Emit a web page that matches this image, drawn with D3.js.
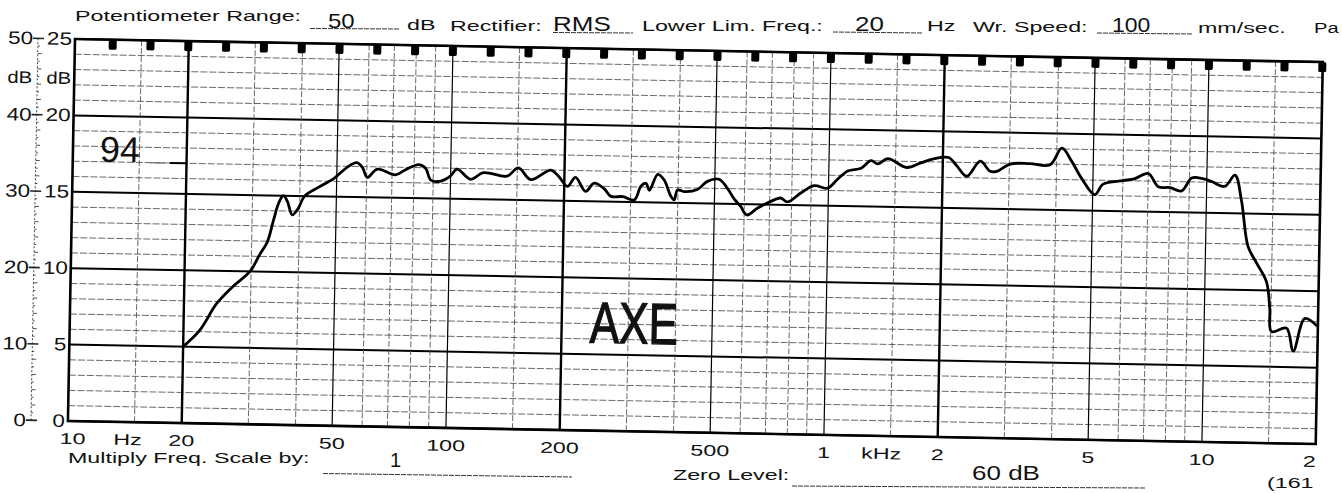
<!DOCTYPE html>
<html>
<head>
<meta charset="utf-8">
<script src="https://cdn.jsdelivr.net/npm/d3@7"></script>
<style>
  body { margin: 0; background: #fff; }
  svg { display: block; }
  text { font-family: "Liberation Sans", Arial, Helvetica, sans-serif; fill: #111; }
</style>
</head>
<body>
<svg id="chart" width="1342" height="493"></svg>
<script>
// response curve (Hz, dB on the 50 dB pot scale)
var freqHz = [20, 22.1, 24.4, 26.9, 29.8, 31.6, 33.0, 34.2, 35.2, 36.2, 37.1, 38.3, 39.7, 41.2,
  44.5, 49.2, 53.3, 56.4, 58.4, 60.2, 64, 71.5, 76, 82.4, 85.9, 88.7, 94.3, 100, 104, 113, 122,
  141, 151, 163, 184, 193, 204, 214, 228, 240, 255, 266, 286, 307, 319, 329, 336, 353, 367,
  383, 391, 399, 415, 450, 478, 513, 541, 563, 587, 610, 650, 703, 748, 780, 845, 916, 994,
  1056, 1122, 1217, 1292, 1346, 1430, 1607, 1742, 1889, 2070, 2182, 2318, 2513, 2671, 2782,
  3015, 3401, 3843, 4124, 4385, 4665, 5061, 5322, 6012, 6457, 7000, 7448, 8000, 8590, 9120,
  9690, 10300, 11170, 11870, 12380, 12950, 13650, 14550, 14890, 15080, 16520, 17260, 18450, 19840];
var levelDb = [10, 12.2, 15.7, 18, 20, 22.3, 23.9, 26.8, 29, 30, 29.3, 27.5, 28.4, 30,
  31.1, 32.4, 33.9, 34.5, 33.9, 32.6, 33.7, 33, 33.7, 34.4, 33.9, 32.4, 32.3, 33, 33.9, 32.6, 33.5,
  33.1, 34.2, 32.7, 34, 33.2, 31.9, 33.1, 31.3, 32.4, 31.7, 30.7, 30.7, 30.3, 32.1, 32.5, 31.6, 33.7, 33,
  30.9, 30.4, 31.7, 31.5, 31.8, 32.9, 33.2, 32, 30.7, 29.7, 28.6, 29.5, 30.4, 30.9, 30.4, 31.6, 32.6, 32.3,
  33.5, 34.6, 35, 36, 35.6, 36.3, 35.2, 35.8, 36.4, 36.6, 35.5, 34.2, 36.2, 34.9, 34.9,
  35.9, 36, 35.9, 38.1, 36.4, 34.2, 32.1, 33.5, 34, 34.3, 35, 33.3, 33.2, 32.8, 34.5,
  34.5, 34.1, 33.5, 35, 31.7, 25.7, 23.6, 21.1, 17.6, 14.6, 15.1, 12.1, 16.4, 15.5];

var freqTicks = [10, 20, 50, 100, 200, 500, 1000, 2000, 5000, 10000, 20000];
var freqTickLabels = ["10", "20", "50", "100", "200", "500", "1", "2", "5", "10", "2"];
var dbTicks = [0, 10, 20, 30, 40, 50];
var dbLabels50 = ["0", "10", "20", "30", "40", "50"];
var dbLabels25 = ["0", "5", "10", "15", "20", "25"];
var gridMultiples = [1, 1.5, 2, 3, 4, 5, 6, 7, 8, 9];
var decades = [10, 100, 1000, 10000];
var refLevel = 34;   // the hand written "94" mark

var W = 1248, H = 382;

var svg = d3.select("#chart");
svg.append("rect").attr("width", 1342).attr("height", 493).attr("fill", "#fff");

// scanned paper is a bit skewed
var g = svg.append("g").attr("transform", "translate(75,39) rotate(1.06)");

var x = d3.scaleLog().domain([10, 20000]).range([0, W]);
var y = d3.scaleLinear().domain([0, 50]).range([H, 0]);

function label(sel, px, py, str, size, k, anchor) {
  return sel.append("text")
    .attr("transform", "translate(" + px + "," + py + ") scale(" + k + ",1)")
    .attr("text-anchor", anchor || "start")
    .attr("font-size", size)
    .text(str);
}

///////////////////////////////////////////////////////////
// grid
///////////////////////////////////////////////////////////
var hLines = d3.range(0, 51, 2);
g.append("g").selectAll("line").data(hLines).enter().append("line")
  .attr("x1", 0).attr("x2", W)
  .attr("y1", function(d) { return y(d); }).attr("y2", function(d) { return y(d); })
  .attr("stroke", function(d) { return d % 10 == 0 ? "#000" : "#444"; })
  .attr("stroke-width", function(d) { return d % 10 == 0 ? 2 : 0.8; })
  .attr("stroke-dasharray", function(d) { return d % 10 == 0 ? null : "7,2"; });

var vLines = [];
decades.forEach(function(dec) {
  gridMultiples.forEach(function(m) {
    var f = dec * m;
    if (f > 10 && f < 20000) vLines.push({f: f, m: m});
  });
});
g.append("g").selectAll("line").data(vLines).enter().append("line")
  .attr("x1", function(d) { return x(d.f); }).attr("x2", function(d) { return x(d.f); })
  .attr("y1", 0).attr("y2", H)
  .attr("stroke", function(d) { return d.m == 1 || d.m == 2 || d.m == 5 ? "#000" : "#444"; })
  .attr("stroke-width", function(d) {
    if (d.m == 2) return 2.4;
    if (d.m == 1 || d.m == 5) return 1.2;
    return 0.8;
  })
  .attr("stroke-dasharray", function(d) { return d.m == 1 || d.m == 2 || d.m == 5 ? null : "6,2"; });

g.append("rect").attr("width", W).attr("height", H)
  .attr("fill", "none").attr("stroke", "#000").attr("stroke-width", 2.6);

// timing tabs on the top edge, every tenth of a decade
var tabs = d3.range(1, 34).map(function(n) { return Math.pow(10, 1 + n / 10); });
g.append("g").selectAll("rect").data(tabs).enter().append("rect")
  .attr("x", function(d) { return x(d) - 4; })
  .attr("y", 0).attr("width", 8).attr("height", 10).attr("rx", 1.5)
  .attr("fill", "#000");

///////////////////////////////////////////////////////////
// left dB scales
///////////////////////////////////////////////////////////
var sc = g.append("g");
sc.append("line").attr("x1", -37).attr("x2", -37).attr("y1", 0).attr("y2", H)
  .attr("stroke", "#333").attr("stroke-width", 0.9).attr("stroke-dasharray", "2,2");
sc.selectAll(".mt").data(d3.range(0, 51)).enter().append("line")
  .attr("x1", function(d) { return d % 10 == 0 ? -42 : -37; })
  .attr("x2", function(d) { return d % 10 == 0 ? -31 : (d % 2 == 0 ? -33 : -35); })
  .attr("y1", function(d) { return y(d); }).attr("y2", function(d) { return y(d); })
  .attr("stroke", "#222").attr("stroke-width", function(d) { return d % 10 == 0 ? 1.6 : 0.8; });

dbTicks.forEach(function(d, i) {
  label(sc, -42, y(d) + 6, dbLabels50[i], 18, 1.25, "end");
  label(sc, -3, y(d) + 6, dbLabels25[i], 18, 1.25, "end");
});
label(sc, -42, 45, "dB", 17, 1.2, "end");
label(sc, -3, 45, "dB", 17, 1.2, "end");

///////////////////////////////////////////////////////////
// frequency labels
///////////////////////////////////////////////////////////
freqTicks.forEach(function(f, i) {
  var dx = i == 0 ? 5 : (i == freqTicks.length - 1 ? -6 : 0);
  label(g, x(f) + dx, H + 23, freqTickLabels[i], 15.5, 1.5, "middle");
});
label(g, x(14.4), H + 23, "Hz", 15.5, 1.5, "middle");
label(g, x(1420), H + 23, "kHz", 15.5, 1.5, "middle");

///////////////////////////////////////////////////////////
// the curve
///////////////////////////////////////////////////////////
var pts = freqHz.map(function(f, i) { return [f, levelDb[i]]; });
var line = d3.line()
  .x(function(d) { return x(d[0]); })
  .y(function(d) { return y(d[1]); })
  .curve(d3.curveCatmullRom.alpha(0.5));
g.append("path").datum(pts)
  .attr("d", line)
  .attr("fill", "none").attr("stroke", "#000")
  .attr("stroke-width", 2.8).attr("stroke-linejoin", "round").attr("stroke-linecap", "round");

// hand written bits
label(g, 27, y(refLevel), "94", 36, 1.0, "start").attr("font-weight", 300);
g.append("line").attr("x1", 76).attr("x2", 92).attr("y1", y(refLevel)).attr("y2", y(refLevel))
  .attr("stroke", "#777").attr("stroke-width", 1.5);
g.append("line").attr("x1", 97).attr("x2", x(20)).attr("y1", y(refLevel)).attr("y2", y(refLevel))
  .attr("stroke", "#000").attr("stroke-width", 2);
label(g, 520, 294, "AXE", 58, 0.76, "start")
  .attr("stroke", "#111").attr("stroke-width", 1.3);

///////////////////////////////////////////////////////////
// printed header / footer (not quite parallel to the grid on the scan)
///////////////////////////////////////////////////////////
var printed = [
  {t: "Potentiometer Range:", x: 75, y: 21},
  {t: "dB", x: 407, y: 29.5},
  {t: "Rectifier:", x: 450, y: 30.5},
  {t: "Lower Lim. Freq.:", x: 642, y: 31},
  {t: "Hz", x: 927, y: 31},
  {t: "Wr. Speed:", x: 973, y: 32},
  {t: "mm/sec.", x: 1198, y: 33},
  {t: "Multiply Freq. Scale by:", x: 68, y: 463},
  {t: "Zero Level:", x: 673, y: 480},
  {t: "(161", x: 1267, y: 488}
];
printed.forEach(function(p) { label(svg, p.x, p.y, p.t, 15.5, 1.5, "start"); });
// the scan cuts this one off at the edge
label(svg, 1314, 33, "Pa", 15.5, 1.3, "start");

var filled = [
  {t: "50", x: 328, y: 28, k: 1.2},
  {t: "RMS", x: 553, y: 30.5, k: 1.3},
  {t: "20", x: 855, y: 31, k: 1.3},
  {t: "100", x: 1112, y: 32, k: 1.15},
  {t: "1", x: 390, y: 467, k: 1.0},
  {t: "60 dB", x: 972, y: 480, k: 1.3}
];
filled.forEach(function(p) { label(svg, p.x, p.y, p.t, 20, p.k, "start"); });

var rules = [
  [310, 28.5, 400, 29], [553, 32.5, 633, 33], [833, 32, 923, 33], [1097, 33, 1192, 34],
  [323, 473.5, 572, 477], [792, 486, 1145, 488]
];
svg.append("g").selectAll("line").data(rules).enter().append("line")
  .attr("x1", function(d) { return d[0]; }).attr("y1", function(d) { return d[1]; })
  .attr("x2", function(d) { return d[2]; }).attr("y2", function(d) { return d[3]; })
  .attr("stroke", "#333").attr("stroke-width", 1).attr("stroke-dasharray", "5,1");
</script>
</body>
</html>
